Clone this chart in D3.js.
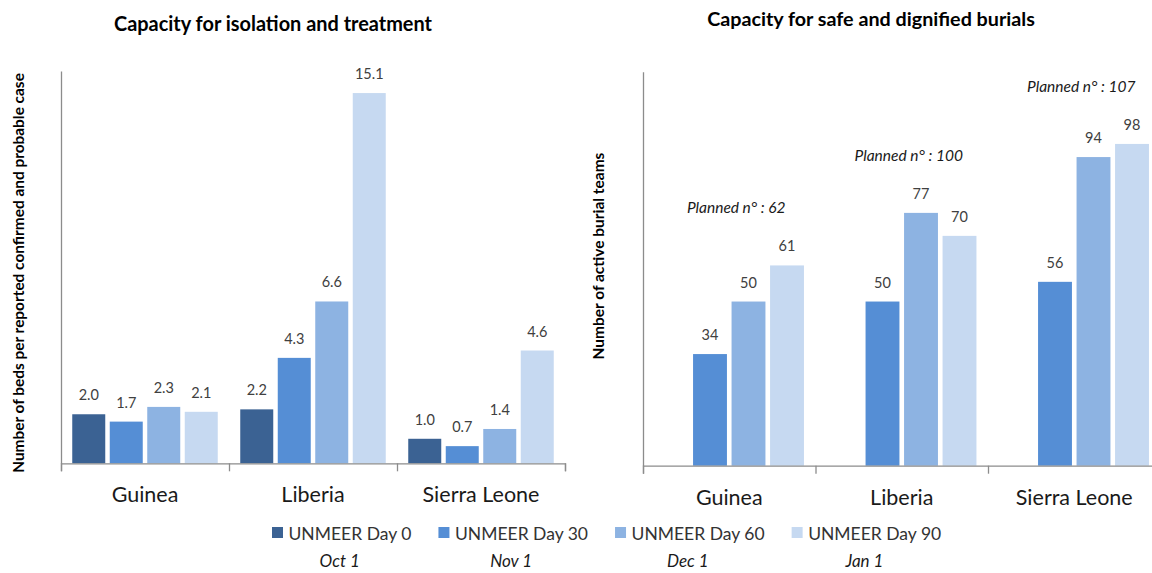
<!DOCTYPE html>
<html>
<head>
<meta charset="utf-8">
<script src="https://cdn.jsdelivr.net/npm/d3@7"></script>
<style>
html,body{margin:0;padding:0;background:#fff;}
svg{display:block;}
</style>
</head>
<body>
<svg id="chart" width="1152" height="573"></svg>
<script>
const categories = ["Guinea", "Liberia", "Sierra Leone"];
const seriesNames = ["UNMEER Day 0", "UNMEER Day 30", "UNMEER Day 60", "UNMEER Day 90"];
const dates = ["Oct 1", "Nov 1", "Dec 1", "Jan 1"];

const bedsDay0  = [2.0, 2.2, 1.0];
const bedsDay30 = [1.7, 4.3, 0.7];
const bedsDay60 = [2.3, 6.6, 1.4];
const bedsDay90 = [2.1, 15.1, 4.6];

const burialDay0  = [null, null, null];
const burialDay30 = [34, 50, 56];
const burialDay60 = [50, 77, 94];
const burialDay90 = [61, 70, 98];
const plannedTeams = [62, 100, 107];

const colors = ["#3b6293", "#558ed5", "#8db3e2", "#c6d9f1"];
const FONT = "Lato, 'Open Sans', sans-serif";

const svg = d3.select("#chart");

// scale font-size so that text occupies the target length
function fitText(sel, target) {
  const fs = parseFloat(sel.attr("font-size"));
  const w = sel.node().getComputedTextLength();
  if (w > 0) sel.attr("font-size", (fs * target / w).toFixed(2));
}

function drawPanel(opts) {
  const g = svg.append("g");
  const x = d3.scaleBand().domain(categories).range(opts.xRange).paddingInner(0).paddingOuter(0);
  const xs = d3.scaleBand().domain(seriesNames).range([0, x.bandwidth()]).paddingInner(0.12).paddingOuter(0.3);
  const y = d3.scaleLinear().domain(opts.yDomain).range([opts.baseline, opts.top]);

  const table = [];
  categories.forEach((c, i) => {
    opts.series.forEach((arr, s) => {
      if (arr[i] !== null && arr[i] !== undefined) {
        table.push({cat: c, ser: seriesNames[s], s: s, v: arr[i]});
      }
    });
  });

  g.selectAll("rect.bar").data(table).join("rect")
    .attr("class", "bar")
    .attr("x", d => x(d.cat) + xs(d.ser))
    .attr("width", xs.bandwidth())
    .attr("y", d => y(d.v))
    .attr("height", d => y(0) - y(d.v))
    .attr("fill", d => colors[d.s]);

  g.selectAll("text.val").data(table).join("text")
    .attr("class", "val")
    .attr("x", d => x(d.cat) + xs(d.ser) + xs.bandwidth() / 2)
    .attr("y", d => y(d.v) - 14)
    .attr("text-anchor", "middle")
    .attr("font-family", FONT)
    .attr("font-size", 14.5)
    .attr("fill", "#404040")
    .text(d => opts.fmt(d.v));

  const yAxis = d3.axisLeft(y).tickValues([]).tickSizeOuter(0);
  g.append("g").attr("transform", `translate(${opts.xRange[0]},0)`).call(yAxis)
    .call(s => s.select(".domain").attr("stroke", "#8c8c8c").attr("stroke-width", 1.3));

  const xAxisScale = d3.scaleLinear().domain([0, categories.length]).range(opts.xRange);
  const xAxis = d3.axisBottom(xAxisScale).tickValues(d3.range(categories.length + 1)).tickSize(8).tickFormat("");
  g.append("g").attr("transform", `translate(0,${opts.baseline})`).call(xAxis)
    .call(s => {
      s.select(".domain").attr("stroke", "#8c8c8c").attr("stroke-width", 1.3);
      s.selectAll(".tick line").attr("stroke", "#8c8c8c").attr("stroke-width", 1.3);
    });

  g.selectAll("text.cat").data(categories).join("text")
    .attr("class", "cat")
    .attr("x", d => x(d) + x.bandwidth() / 2)
    .attr("y", opts.baseline + 39)
    .attr("text-anchor", "middle")
    .attr("font-family", FONT)
    .attr("font-size", 21.5)
    .attr("fill", "#1a1a1a")
    .text(d => d);

  const title = g.append("text")
    .attr("x", opts.titleX).attr("y", opts.titleY)
    .attr("text-anchor", "middle")
    .attr("font-family", FONT).attr("font-weight", "bold")
    .attr("font-size", 17).attr("fill", "#000")
    .text(opts.title);
  fitText(title, opts.titleW);

  const yl = g.append("text")
    .attr("transform", `translate(${opts.yLabelX},${opts.yLabelY}) rotate(-90)`)
    .attr("text-anchor", "middle")
    .attr("font-family", FONT).attr("font-weight", "bold")
    .attr("font-size", 13).attr("fill", "#000")
    .text(opts.yLabel);
  fitText(yl, opts.yLabelW);

  return {g, x, xs, y};
}

drawPanel({
  xRange: [61, 565], baseline: 463.3, top: 71, yDomain: [0, 16],
  series: [bedsDay0, bedsDay30, bedsDay60, bedsDay90],
  fmt: d3.format(".1f"),
  title: "Capacity for isolation and treatment", titleX: 273, titleY: 31, titleW: 318,
  yLabel: "Number of beds per reported confirmed and probable case", yLabelX: 24, yLabelY: 273, yLabelW: 400
});

const right = drawPanel({
  xRange: [643, 1160.5], baseline: 465.7, top: 71.7, yDomain: [0, 120],
  series: [burialDay0, burialDay30, burialDay60, burialDay90],
  fmt: d3.format("d"),
  title: "Capacity for safe and dignified burials", titleX: 871, titleY: 26, titleW: 328,
  yLabel: "Number of active burial teams", yLabelX: 604, yLabelY: 256, yLabelW: 207
});

const maxPerCat = categories.map((c, i) => d3.max([burialDay30[i], burialDay60[i], burialDay90[i]]));
right.g.selectAll("text.plan").data(categories).join("text")
  .attr("class", "plan")
  .attr("x", d => right.x(d) + right.x.bandwidth() / 2 + 7)
  .attr("y", (d, i) => right.y(maxPerCat[i]) - 52)
  .attr("text-anchor", "middle")
  .attr("font-family", FONT).attr("font-style", "italic")
  .attr("font-size", 15.5).attr("fill", "#1a1a1a")
  .text((d, i) => `Planned n° : ${plannedTeams[i]}`);

const legend = svg.append("g");
let cx = 272;
const legendCenters = [];
seriesNames.forEach((name, i) => {
  legend.append("rect").attr("x", cx).attr("y", 527).attr("width", 11).attr("height", 11).attr("fill", colors[i]);
  const t = legend.append("text").attr("x", cx + 16.5).attr("y", 539.5)
    .attr("font-family", FONT).attr("font-size", 17.5).attr("fill", "#333")
    .text(name);
  const w = t.node().getComputedTextLength();
  legendCenters.push((cx + cx + 16.5 + w) / 2);
  cx = cx + 16.5 + w + 27;
});

legend.selectAll("text.date").data(dates).join("text")
  .attr("class", "date")
  .attr("x", (d, i) => legendCenters[i] - 2)
  .attr("y", 567)
  .attr("text-anchor", "middle")
  .attr("font-family", FONT).attr("font-style", "italic")
  .attr("font-size", 17).attr("fill", "#1a1a1a")
  .text(d => d);
</script>
</body>
</html>
